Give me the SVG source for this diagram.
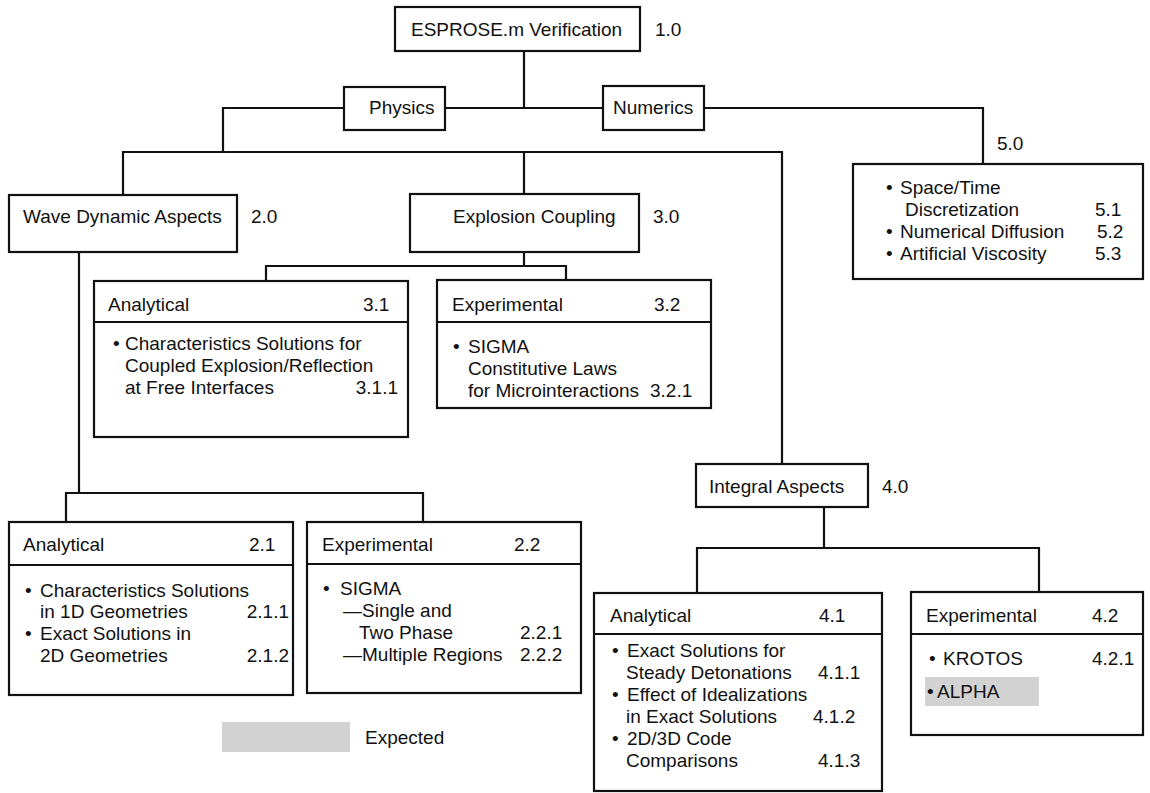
<svg xmlns="http://www.w3.org/2000/svg" width="1150" height="793" viewBox="0 0 1150 793">
<style>
text{font-family:"Liberation Sans",Arial,sans-serif;font-size:19px;fill:#111}
.box{fill:#fff;stroke:#111;stroke-width:2.2}
.div{stroke:#111;stroke-width:2.2}
.con{fill:none;stroke:#111;stroke-width:2.2}
.shade{fill:#d2d2d2}
</style>
<rect width="1150" height="793" fill="#fff"/>
<g id="connectors">
<path class="con" d="M524,51V108M445,108H603"/>
<path class="con" d="M344,108H223V152"/>
<path class="con" d="M123,195V152H782V464"/>
<path class="con" d="M524,152V194"/>
<path class="con" d="M704,108H983V164"/>
<path class="con" d="M524,252V266M266,281V266H566V280"/>
<path class="con" d="M79,252V493M66,522V493H423V522"/>
<path class="con" d="M824,507V548M697,593V548H1039V592"/>
</g>
<g id="n1">
<rect class="box" x="395" y="7" width="245" height="44"/>
<text x="411" y="36">ESPROSE.m Verification</text>
<text x="655" y="36">1.0</text>
</g>
<g id="physics">
<rect class="box" x="344" y="87" width="101" height="43"/>
<text x="369" y="114">Physics</text>
</g>
<g id="numerics">
<rect class="box" x="603" y="86" width="101" height="44"/>
<text x="613" y="114">Numerics</text>
</g>
<g id="n2">
<rect class="box" x="9" y="195" width="228" height="57"/>
<text x="23" y="223">Wave Dynamic Aspects</text>
<text x="251" y="223">2.0</text>
</g>
<g id="n3">
<rect class="box" x="410" y="194" width="229" height="58"/>
<text x="453" y="223">Explosion Coupling</text>
<text x="653" y="223">3.0</text>
</g>
<g id="n5">
<rect class="box" x="853" y="164" width="290" height="115"/>
<text x="997" y="150">5.0</text>
<text x="886" y="194">•</text><text x="900" y="194">Space/Time</text>
<text x="905" y="216">Discretization</text><text x="1095" y="216">5.1</text>
<text x="886" y="238">•</text><text x="900" y="238">Numerical Diffusion</text><text x="1097" y="238">5.2</text>
<text x="886" y="260">•</text><text x="900" y="260">Artificial Viscosity</text><text x="1095" y="260">5.3</text>
</g>
<g id="n31">
<rect class="box" x="94" y="281" width="314" height="156"/>
<line class="div" x1="94" y1="322" x2="408" y2="322"/>
<text x="108" y="311">Analytical</text><text x="363" y="311">3.1</text>
<text x="113" y="350">•</text><text x="125" y="350">Characteristics Solutions for</text>
<text x="125" y="372">Coupled Explosion/Reflection</text>
<text x="125" y="394">at Free Interfaces</text><text x="398" y="394" text-anchor="end">3.1.1</text>
</g>
<g id="n32">
<rect class="box" x="437" y="280" width="274" height="128"/>
<line class="div" x1="437" y1="322" x2="711" y2="322"/>
<text x="452" y="311">Experimental</text><text x="654" y="311">3.2</text>
<text x="453" y="353">•</text><text x="468" y="353">SIGMA</text>
<text x="468" y="375">Constitutive Laws</text>
<text x="468" y="397">for Microinteractions</text><text x="650" y="397">3.2.1</text>
</g>
<g id="n21">
<rect class="box" x="9" y="522" width="284" height="173"/>
<line class="div" x1="9" y1="565" x2="293" y2="565"/>
<text x="23" y="551">Analytical</text><text x="249" y="551">2.1</text>
<text x="25" y="597">•</text><text x="40" y="597">Characteristics Solutions</text>
<text x="40" y="618">in 1D Geometries</text><text x="289" y="618" text-anchor="end">2.1.1</text>
<text x="25" y="640">•</text><text x="40" y="640">Exact Solutions in</text>
<text x="40" y="662">2D Geometries</text><text x="289" y="662" text-anchor="end">2.1.2</text>
</g>
<g id="n22">
<rect class="box" x="307" y="522" width="274" height="171"/>
<line class="div" x1="307" y1="564" x2="581" y2="564"/>
<text x="322" y="551">Experimental</text><text x="514" y="551">2.2</text>
<text x="323" y="595">•</text><text x="340" y="595">SIGMA</text>
<text x="343" y="617">—Single and</text>
<text x="359" y="639">Two Phase</text><text x="520" y="639">2.2.1</text>
<text x="343" y="661">—Multiple Regions</text><text x="520" y="661">2.2.2</text>
</g>
<g id="n4">
<rect class="box" x="696" y="464" width="172" height="43"/>
<text x="709" y="493">Integral Aspects</text>
<text x="882" y="493">4.0</text>
</g>
<g id="n41">
<rect class="box" x="594" y="593" width="288" height="198"/>
<line class="div" x1="594" y1="634" x2="882" y2="634"/>
<text x="610" y="622">Analytical</text><text x="819" y="622">4.1</text>
<text x="612" y="657">•</text><text x="627" y="657">Exact Solutions for</text>
<text x="626" y="679">Steady Detonations</text><text x="818" y="679">4.1.1</text>
<text x="612" y="701">•</text><text x="627" y="701">Effect of Idealizations</text>
<text x="626" y="723">in Exact Solutions</text><text x="813" y="723">4.1.2</text>
<text x="612" y="745">•</text><text x="627" y="745">2D/3D Code</text>
<text x="626" y="767">Comparisons</text><text x="818" y="767">4.1.3</text>
</g>
<g id="n42">
<rect class="box" x="911" y="592" width="232" height="143"/>
<line class="div" x1="911" y1="634" x2="1143" y2="634"/>
<text x="926" y="622">Experimental</text><text x="1092" y="622">4.2</text>
<text x="929" y="665">•</text><text x="943" y="665">KROTOS</text><text x="1092" y="665">4.2.1</text>
<rect class="shade" x="925" y="677" width="114" height="29"/>
<text x="927" y="698">•</text><text x="937" y="698">ALPHA</text>
</g>
<g id="legend">
<rect class="shade" x="222" y="722" width="128" height="30"/>
<text x="365" y="744">Expected</text>
</g>
</svg>
